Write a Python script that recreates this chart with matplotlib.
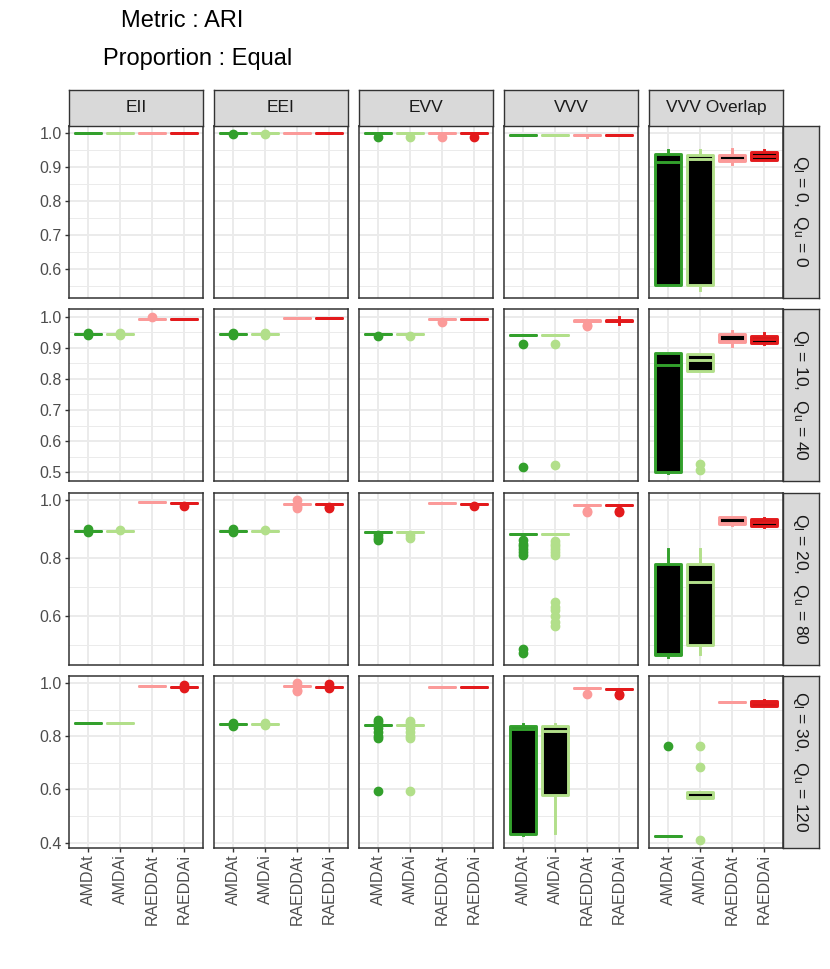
import numpy as np
import matplotlib
matplotlib.use('Agg')
from matplotlib import pyplot as plt

plt.rcParams['font.family'] = ['Liberation Sans', 'DejaVu Sans']
plt.rcParams['mathtext.default'] = 'regular'

methods = ['AMDAt', 'AMDAi', 'RAEDDAt', 'RAEDDAi']
colours = ['#33a02c', '#b2df8a', '#fb9a99', '#e31a1c']
models = ['EII', 'EEI', 'EVV', 'VVV', 'VVV Overlap']
q_lower = [0, 10, 20, 30]
q_upper = [0, 40, 80, 120]

# box summaries: one row per (Q_l, Q_u) setting, one entry per method
# a single number means a flat box (whislo = q1 = med = q3 = whishi)
# otherwise (whislo, q1, med, q3, whishi)
EII_box = [
    [1.0, 1.0, 1.0, 1.0],
    [0.945, 0.945, 0.993, 0.993],
    [0.894, 0.894, 0.992, 0.990],
    [0.849, 0.849, 0.990, 0.987],
]
EII_out = [
    [[], [], [], []],
    [[0.948, 0.942], [0.948, 0.942], [0.999], []],
    [[0.899, 0.890], [0.898], [], [0.978]],
    [[], [], [], [0.991, 0.983]],
]

EEI_box = [
    [1.0, 1.0, 1.0, 1.0],
    [0.945, 0.945, 0.994, 0.994],
    [0.894, 0.894, 0.988, 0.988],
    [0.845, 0.845, 0.990, 0.987],
]
EEI_out = [
    [[0.997], [0.998], [], []],
    [[0.948, 0.941], [0.948, 0.942], [], []],
    [[0.899, 0.891], [0.898], [0.999, 0.978, 0.974], [0.977, 0.974]],
    [[0.851, 0.840], [0.849, 0.841], [0.999, 0.975, 0.970], [0.995, 0.980]],
]

EVV_box = [
    [1.0, 1.0, 1.0, 1.0],
    [0.945, 0.945, 0.992, 0.992],
    [0.891, 0.891, 0.989, 0.988],
    [0.843, 0.843, 0.986, 0.984],
]
EVV_out = [
    [[0.990], [0.990], [0.990], [0.990]],
    [[0.936], [0.936], [0.983], []],
    [[0.880, 0.870, 0.862], [0.878, 0.870], [], [0.978]],
    [[0.862, 0.852, 0.830, 0.815, 0.800, 0.792, 0.595],
     [0.858, 0.850, 0.830, 0.815, 0.800, 0.793, 0.595], [], []],
]

VVV_box = [
    [0.994, 0.994, (0.990, 0.994, 0.994, 0.995, 0.996), 0.994],
    [0.940, 0.940, (0.982, 0.985, 0.986, 0.988, 0.990), (0.975, 0.984, 0.986, 0.988, 0.998)],
    [0.884, 0.884, 0.983, 0.982],
    [(0.428, 0.433, 0.828, 0.838, 0.847), (0.436, 0.580, 0.820, 0.839, 0.847), 0.980, 0.979],
]
VVV_out = [
    [[], [], [], []],
    [[0.912, 0.518], [0.912, 0.522], [0.972, 0.969], []],
    [[0.862, 0.850, 0.840, 0.830, 0.820, 0.810, 0.486, 0.474],
     [0.860, 0.850, 0.840, 0.830, 0.820, 0.810, 0.650, 0.630, 0.620, 0.600, 0.580, 0.565],
     [0.962, 0.958], [0.962, 0.958]],
    [[], [], [0.960], [0.960, 0.955]],
]

VVVO_box = [
    [(0.553, 0.553, 0.917, 0.938, 0.952), (0.540, 0.553, 0.925, 0.937, 0.952),
     (0.910, 0.920, 0.922, 0.936, 0.955), (0.921, 0.922, 0.933, 0.945, 0.952)],
    [(0.497, 0.502, 0.845, 0.882, 0.882), (0.826, 0.826, 0.861, 0.879, 0.879),
     (0.905, 0.918, 0.922, 0.945, 0.952), (0.912, 0.916, 0.927, 0.938, 0.947)],
    [(0.460, 0.465, 0.468, 0.778, 0.830), (0.470, 0.499, 0.717, 0.778, 0.830),
     (0.913, 0.916, 0.920, 0.940, 0.943), (0.907, 0.909, 0.925, 0.933, 0.939)],
    [0.426, (0.568, 0.568, 0.572, 0.592, 0.592), 0.928, (0.914, 0.915, 0.924, 0.933, 0.935)],
]
VVVO_out = [
    [[], [], [], []],
    [[], [0.525, 0.507], [], []],
    [[], [], [], []],
    [[0.762], [0.762, 0.686, 0.411], [], []],
]

all_box = [EII_box, EEI_box, EVV_box, VVV_box, VVVO_box]
all_out = [EII_out, EEI_out, EVV_out, VVV_out, VVVO_out]

y_major = [
    [0.6, 0.7, 0.8, 0.9, 1.0],
    [0.5, 0.6, 0.7, 0.8, 0.9, 1.0],
    [0.6, 0.8, 1.0],
    [0.4, 0.6, 0.8, 1.0],
]
y_minor = [
    [0.55, 0.65, 0.75, 0.85, 0.95],
    [0.55, 0.65, 0.75, 0.85, 0.95],
    [0.5, 0.7, 0.9],
    [0.5, 0.7, 0.9],
]


def box_stats(box, out):
    if np.isscalar(box):
        box = (box,) * 5
    lo, q1, med, q3, hi = box
    return dict(whislo=lo, q1=q1, med=med, q3=q3, whishi=hi, fliers=out)


W, H = 830, 969
fig = plt.figure(figsize=(W / 100, H / 100), dpi=100)

col_left = [69, 214, 359, 504, 649]
row_top = [125.5, 309, 492.5, 675.5]
pw, ph = 134, 172
strip = 35.5

grey20 = '#333333'
grey30 = '#4d4d4d'
grid_col = '#ebebeb'
lw_box = 2.1


def px_axes(x, y, w, h):
    return fig.add_axes([x / W, 1 - (y + h) / H, w / W, h / H])


def strip_axes(x, y, w, h):
    sa = px_axes(x, y, w, h)
    sa.set_facecolor('#d9d9d9')
    sa.set_xticks([])
    sa.set_yticks([])
    for sp in sa.spines.values():
        sp.set_color(grey20)
        sp.set_linewidth(1.0)
    return sa


for r in range(4):
    # shared y range of the row, ggplot style 5% expansion
    vals = []
    for m in range(5):
        for k in range(4):
            b = all_box[m][r][k]
            vals += list(b) if not np.isscalar(b) else [b]
            vals += all_out[m][r][k]
    lo, hi = min(vals), max(vals)
    pad = 0.05 * (hi - lo)

    for c in range(5):
        ax = px_axes(col_left[c], row_top[r], pw, ph)
        st = [box_stats(all_box[c][r][k], all_out[c][r][k]) for k in range(4)]
        bp = ax.bxp(st, positions=[1, 2, 3, 4], widths=0.8, patch_artist=True,
                    showcaps=False, manage_ticks=False)
        for k in range(4):
            bp['boxes'][k].set(facecolor='black', edgecolor=colours[k], linewidth=lw_box,
                               joinstyle='round', capstyle='round', zorder=3)
            bp['medians'][k].set(color=colours[k], linewidth=lw_box,
                                 solid_capstyle='round', zorder=3.1)
            for wk in bp['whiskers'][2 * k:2 * k + 2]:
                wk.set(color=colours[k], linewidth=lw_box, zorder=2.5)
            bp['fliers'][k].set(marker='o', markerfacecolor=colours[k],
                                markeredgecolor=colours[k], markersize=6,
                                linestyle='none', zorder=2)

        ax.set_xlim(0.4, 4.6)
        ax.set_ylim(lo - pad, hi + pad)
        ax.set_xticks([1, 2, 3, 4])
        ax.set_yticks(y_major[r])
        ax.set_yticks(y_minor[r], minor=True)
        ax.set_axisbelow(True)
        ax.grid(which='major', color=grid_col, linewidth=1.4)
        ax.grid(which='minor', axis='y', color=grid_col, linewidth=0.7)
        for sp in ax.spines.values():
            sp.set_color(grey20)
            sp.set_linewidth(1.1)
        ax.tick_params(which='both', colors=grey20, length=3, width=1.0,
                       labelcolor=grey30, labelsize=11.5, pad=2)
        ax.tick_params(which='minor', length=0)
        if c == 0:
            ax.set_yticklabels(['%.1f' % v for v in y_major[r]])
        else:
            ax.tick_params(axis='y', which='major', length=0, labelleft=False)
        if r == 3:
            ax.set_xticklabels(methods, rotation=90, va='top', ha='center')
        else:
            ax.tick_params(axis='x', length=0, labelbottom=False)

        # top strips
        if r == 0:
            sa = strip_axes(col_left[c], row_top[0] - strip, pw, strip)
            sa.text(0.5, 0.5, models[c], ha='center', va='center',
                    fontsize=12.5, color='#1a1a1a', transform=sa.transAxes)

    # right strips
    sa = strip_axes(col_left[4] + pw, row_top[r], strip, ph)
    lab = r'$Q_l$ = %d,  $Q_u$ = %d' % (q_lower[r], q_upper[r])
    sa.text(0.5, 0.5, lab, ha='center', va='center', rotation=-90,
            fontsize=12.5, color='#1a1a1a', transform=sa.transAxes)

fig.text(182 / W, 1 - 21 / H, 'Metric : ARI', ha='center', va='center', fontsize=17)
fig.text(198 / W, 1 - 59 / H, 'Proportion : Equal', ha='center', va='center', fontsize=17)

fig.savefig('out.png', dpi=100)
